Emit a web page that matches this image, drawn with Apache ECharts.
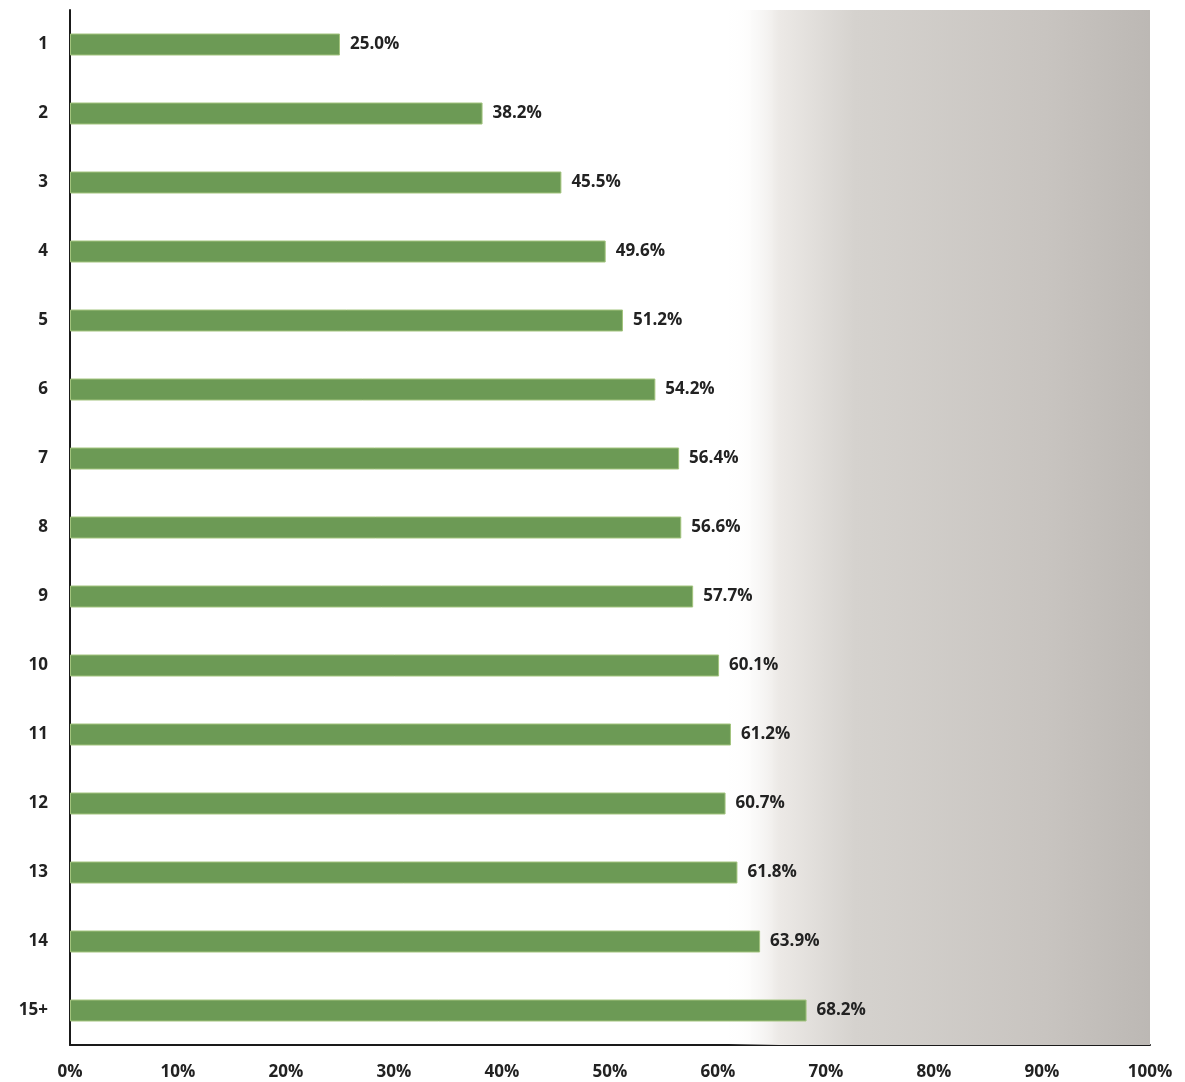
<!DOCTYPE html>
<html><head><meta charset="utf-8">
<script src="https://cdn.jsdelivr.net/npm/echarts@6/dist/echarts.min.js"></script>
<style>html,body{margin:0;padding:0;background:#fff}#c{width:1185px;height:1082px}</style>
</head><body><div id="c"></div>
<script>
const categories = ['1','2','3','4','5','6','7','8','9','10','11','12','13','14','15+'];
const values = [25.0, 38.2, 45.5, 49.6, 51.2, 54.2, 56.4, 56.6, 57.7, 60.1, 61.2, 60.7, 61.8, 63.9, 68.2];
const xTicks = [0,10,20,30,40,50,60,70,80,90,100];

const chart = echarts.init(document.getElementById('c'));
const font = '"Open Sans", "Liberation Sans", sans-serif';
chart.setOption({
  animation: false,
  grid: {left: 70, right: 35, top: 10, bottom: 37},
  xAxis: {
    type: 'value', min: 0, max: 100, interval: 10,
    axisLine: {show: true, lineStyle: {color: '#1a1a1a', width: 2}},
    axisTick: {show: false},
    splitLine: {show: false},
    axisLabel: {margin: 19, color: '#222', fontWeight: 'bold', fontSize: 17, fontFamily: font,
      formatter: v => v + '%'}
  },
  yAxis: {
    type: 'category', data: categories, inverse: true,
    axisLine: {show: true, lineStyle: {color: '#1a1a1a', width: 2}},
    axisTick: {show: false},
    axisLabel: {margin: 22, color: '#222', fontWeight: 'bold', fontSize: 17, fontFamily: font}
  },
  series: [{
    type: 'bar', data: values, barWidth: 22,
    itemStyle: {color: '#6c9a55', borderColor: '#a3c47e', borderWidth: 1},
    label: {show: true, position: 'right', distance: 10, color: '#222', fontWeight: 'bold',
      fontSize: 17, fontFamily: font, formatter: p => p.value.toFixed(1) + '%'},
    markArea: {
      silent: true,
      itemStyle: {color: new echarts.graphic.LinearGradient(0, 0, 1, 0, [
        {offset: 0, color: 'rgba(255,255,255,0)'},
        {offset: 0.12, color: 'rgba(236,233,230,1)'},
        {offset: 0.3, color: '#d5d2ce'},
        {offset: 0.75, color: '#c8c4c0'},
        {offset: 1, color: '#bcb8b4'}
      ])},
      data: [[{xAxis: 61}, {xAxis: 100}]]
    }
  }]
});
</script></body></html>
